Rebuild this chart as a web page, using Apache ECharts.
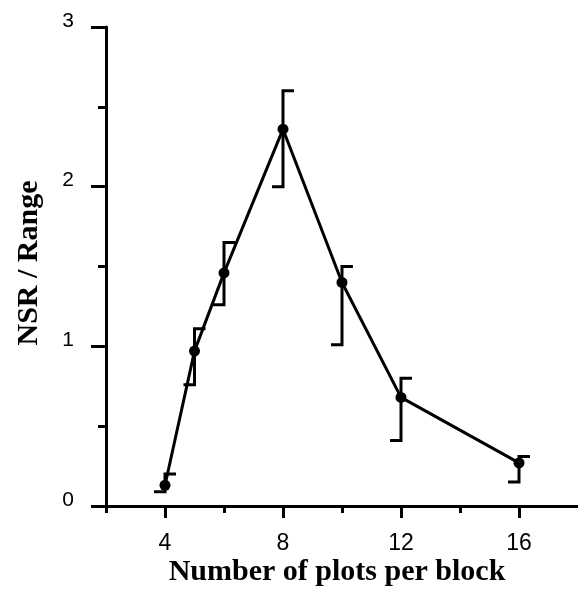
<!DOCTYPE html>
<html>
<head>
<meta charset="utf-8">
<script src="https://cdn.jsdelivr.net/npm/echarts@6/dist/echarts.min.js"></script>
<style>html,body{margin:0;padding:0;background:#fff;}#c{width:578px;height:591px;}</style>
</head>
<body>
<div id="c"></div>
<script>
var plotsPerBlock = [4, 5, 6, 8, 10, 12, 16];
var nsrRange = [0.13, 0.97, 1.46, 2.36, 1.40, 0.68, 0.27];
var errLow = [0.09, 0.76, 1.26, 2.00, 1.01, 0.41, 0.15];
var errHigh = [0.20, 1.11, 1.65, 2.60, 1.50, 0.80, 0.31];
var xMajorTicks = [4, 8, 12, 16];
var xMinorTicks = [2, 6, 10, 14];
var xTitle = 'Number of plots per block';
var yTitle = 'NSR / Range';

var chart = echarts.init(document.getElementById('c'), null, {renderer: 'canvas'});
var lineData = plotsPerBlock.map(function (x, i) { return [x, nsrRange[i]]; });
var errData = plotsPerBlock.map(function (x, i) { return [x, errLow[i], errHigh[i]]; });

chart.setOption({
  animation: false,
  backgroundColor: '#fff',
  grid: {left: 106, top: 27, right: -4, bottom: 85},
  xAxis: [{
    type: 'value', min: 2, max: 18, interval: 2,
    axisLine: {show: true, lineStyle: {color: '#000', width: 3}},
    axisTick: {show: true, customValues: xMinorTicks, length: 7, lineStyle: {color: '#000', width: 3}},
    axisLabel: {show: true, customValues: xMajorTicks, margin: 26, color: '#000', fontSize: 23, fontFamily: 'Liberation Sans, Arial, sans-serif'},
    splitLine: {show: false}
  }, {
    type: 'value', min: 2, max: 18, interval: 2, position: 'bottom',
    axisLine: {show: false},
    axisTick: {show: true, customValues: xMajorTicks, length: 12, lineStyle: {color: '#000', width: 3}},
    axisLabel: {show: false},
    splitLine: {show: false}
  }],
  yAxis: {
    type: 'value', min: 0, max: 3, interval: 1,
    axisLine: {show: true, lineStyle: {color: '#000', width: 3}},
    axisTick: {show: true, length: 15, lineStyle: {color: '#000', width: 3}},
    minorTick: {show: true, splitNumber: 2, length: 8, lineStyle: {color: '#000', width: 3}},
    axisLabel: {margin: 32, color: '#000', fontSize: 21, fontFamily: 'Liberation Sans, Arial, sans-serif', verticalAlign: 'bottom', lineHeight: 12},
    splitLine: {show: false}
  },
  graphic: [{
    type: 'text', x: 337, y: 572,
    style: {text: xTitle, font: 'bold 30px "Liberation Serif", "Times New Roman", serif', fill: '#000', textAlign: 'center', textVerticalAlign: 'middle'}
  }, {
    type: 'text', x: 29, y: 263, rotation: Math.PI / 2,
    style: {text: yTitle, font: 'bold 30px "Liberation Serif", "Times New Roman", serif', fill: '#000', textAlign: 'center', textVerticalAlign: 'middle'}
  }],
  series: [{
    type: 'custom',
    data: errData,
    renderItem: function (params, api) {
      var x = api.value(0), lo = api.value(1), hi = api.value(2);
      var pHi = api.coord([x, hi]), pLo = api.coord([x, lo]);
      var cap = 11;
      return {
        type: 'polyline',
        shape: {points: [[pHi[0] + cap, pHi[1]], [pHi[0], pHi[1]], [pLo[0], pLo[1]], [pLo[0] - cap, pLo[1]]]},
        style: {stroke: '#000', lineWidth: 3, fill: null}
      };
    },
    z: 2
  }, {
    type: 'line',
    data: lineData,
    symbol: 'circle', symbolSize: 11,
    itemStyle: {color: '#000'},
    lineStyle: {color: '#000', width: 3},
    z: 3
  }]
});
</script>
</body>
</html>
